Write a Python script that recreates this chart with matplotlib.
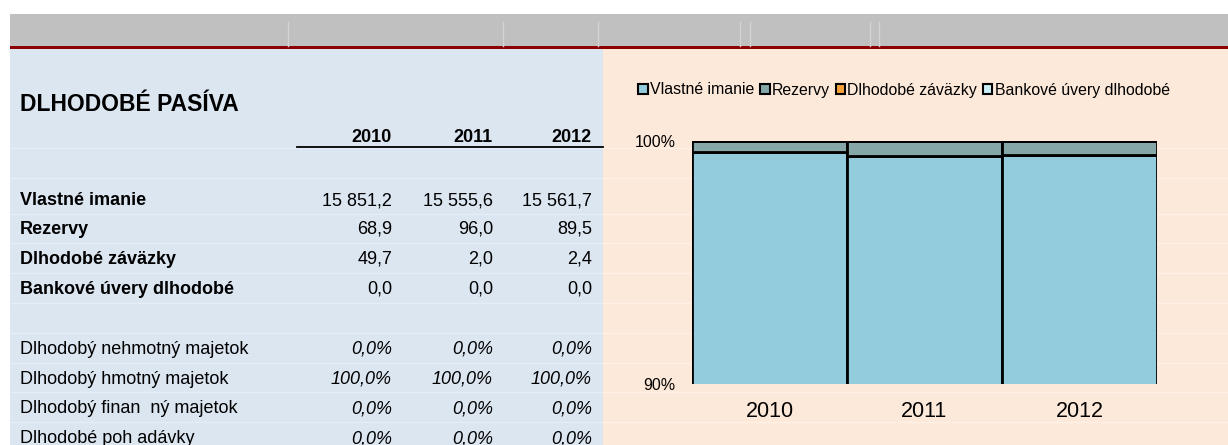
import numpy as np
import matplotlib
matplotlib.use('Agg')
import matplotlib.pyplot as plt
import matplotlib.patches as patches

plt.rcParams['font.family'] = ['Liberation Sans', 'DejaVu Sans']

# table data
years = ['2010', '2011', '2012']
vlastne = [15851.2, 15555.6, 15561.7]
rezervy = [68.9, 96.0, 89.5]
zavazky = [49.7, 2.0, 2.4]
bankove = [0.0, 0.0, 0.0]
majetok_labels = ['Dlhodobý nehmotný majetok', 'Dlhodobý hmotný majetok',
                  'Dlhodobý finan  ný majetok', 'Dlhodobé poh adávky']
majetok_share = [[0.0, 0.0, 0.0], [100.0, 100.0, 100.0],
                 [0.0, 0.0, 0.0], [0.0, 0.0, 0.0]]

# series shown in the chart (only equity and reserves carry height)
chart_names = ['Vlastné imanie', 'Rezervy', 'Dlhodobé záväzky', 'Bankové úvery dlhodobé']
chart_colors = ['#93CDDD', '#86A7A8', '#F9A23C', '#C8EEF6']
chart_zavazky = [0.0, 0.0, 0.0]
chart_bankove = [0.0, 0.0, 0.0]


def fmt(v):
    s = '{:,.1f}'.format(v)
    return s.replace(',', ' ').replace('.', ',')


W, H = 1228, 445
fig = plt.figure(figsize=(W / 100, H / 100), dpi=100)
bg = fig.add_axes([0, 0, 1, 1])
bg.set_xlim(0, W)
bg.set_ylim(H, 0)
bg.axis('off')

# sheet background
bg.add_patch(patches.Rectangle((10, 14), W - 10, 32, facecolor='#C0C0C0', edgecolor='none'))
for x in [288, 503, 598, 740, 750, 870, 879]:
    bg.plot([x, x], [22, 46], color='#D4D4D4', lw=1)
bg.add_patch(patches.Rectangle((10, 46), W - 10, 3, facecolor='#8B0000', edgecolor='none'))
bg.add_patch(patches.Rectangle((10, 49), 593, H - 49, facecolor='#DCE6F1', edgecolor='none'))
bg.add_patch(patches.Rectangle((603, 49), W - 603, H - 49, facecolor='#FDE9D9', edgecolor='none'))

# faint cell borders
for y in [148, 178, 214, 243, 273, 303, 333, 363, 392, 422]:
    bg.plot([10, 603], [y, y], color='#E6EDF6', lw=1)
    bg.plot([603, 1228], [y, y], color='#FEF0E6', lw=1)

# title
bg.text(20, 111, 'DLHODOBÉ PASÍVA', fontsize=16.5, fontweight='bold', va='baseline', ha='left')

col_x = [392, 493, 592]
for x, yr in zip(col_x, years):
    bg.text(x, 142, yr, fontsize=13, fontweight='bold', ha='right', va='baseline')
bg.plot([297, 603], [147, 147], color='black', lw=1.3)

rows = [('Vlastné imanie', vlastne, 199), ('Rezervy', rezervy, 228),
        ('Dlhodobé záväzky', zavazky, 258), ('Bankové úvery dlhodobé', bankove, 288)]
for name, vals, y in rows:
    bg.text(20, y + 6, name, fontsize=13, fontweight='bold', ha='left', va='baseline')
    for x, v in zip(col_x, vals):
        bg.text(x, y + 6, fmt(v), fontsize=13, ha='right', va='baseline')

for i, (name, vals) in enumerate(zip(majetok_labels, majetok_share)):
    y = 348 + i * 29.7
    bg.text(20, y + 6, name, fontsize=13, ha='left', va='baseline')
    for x, v in zip(col_x, vals):
        bg.text(x, y + 6, fmt(v) + '%', fontsize=13, style='italic', ha='right', va='baseline')

# chart
ax = fig.add_axes([692 / W, 1 - 384 / H, 465 / W, 243 / H])
ax.patch.set_alpha(0)
v = np.array(vlastne)
r = np.array(rezervy)
tot = v + r + np.array(chart_zavazky) + np.array(chart_bankove)
parts = [v / tot, r / tot, np.array(chart_zavazky) / tot, np.array(chart_bankove) / tot]
pos = np.arange(len(years))
bottom = np.zeros(len(years))
for part, col in zip(parts, chart_colors):
    ax.bar(pos, part, bottom=bottom, width=1.0, color=col, edgecolor='black', lw=2)
    bottom = bottom + part

ax.set_xlim(-0.5, 2.5)
ax.set_ylim(0.9, 1.0)
ax.set_yticks([0.9, 1.0])
ax.set_yticklabels(['90%', '100%'], fontsize=11.5)
ax.set_xticks(pos)
ax.set_xticklabels(years, fontsize=15.5)
ax.tick_params(axis='y', length=0, pad=12)
ax.tick_params(axis='x', length=0, pad=12)
for s in ax.spines.values():
    s.set_visible(False)

handles = [patches.Patch(facecolor=c, edgecolor='black', lw=1.5) for c in chart_colors]
fig.legend(handles, chart_names, loc='center left', bbox_to_anchor=(632 / W, 1 - 90 / H),
           ncol=4, frameon=False, fontsize=11.4, handlelength=0.6, handleheight=0.6,
           handletextpad=0.15, columnspacing=0.35, borderaxespad=0)

fig.savefig('out.png', dpi=100)
